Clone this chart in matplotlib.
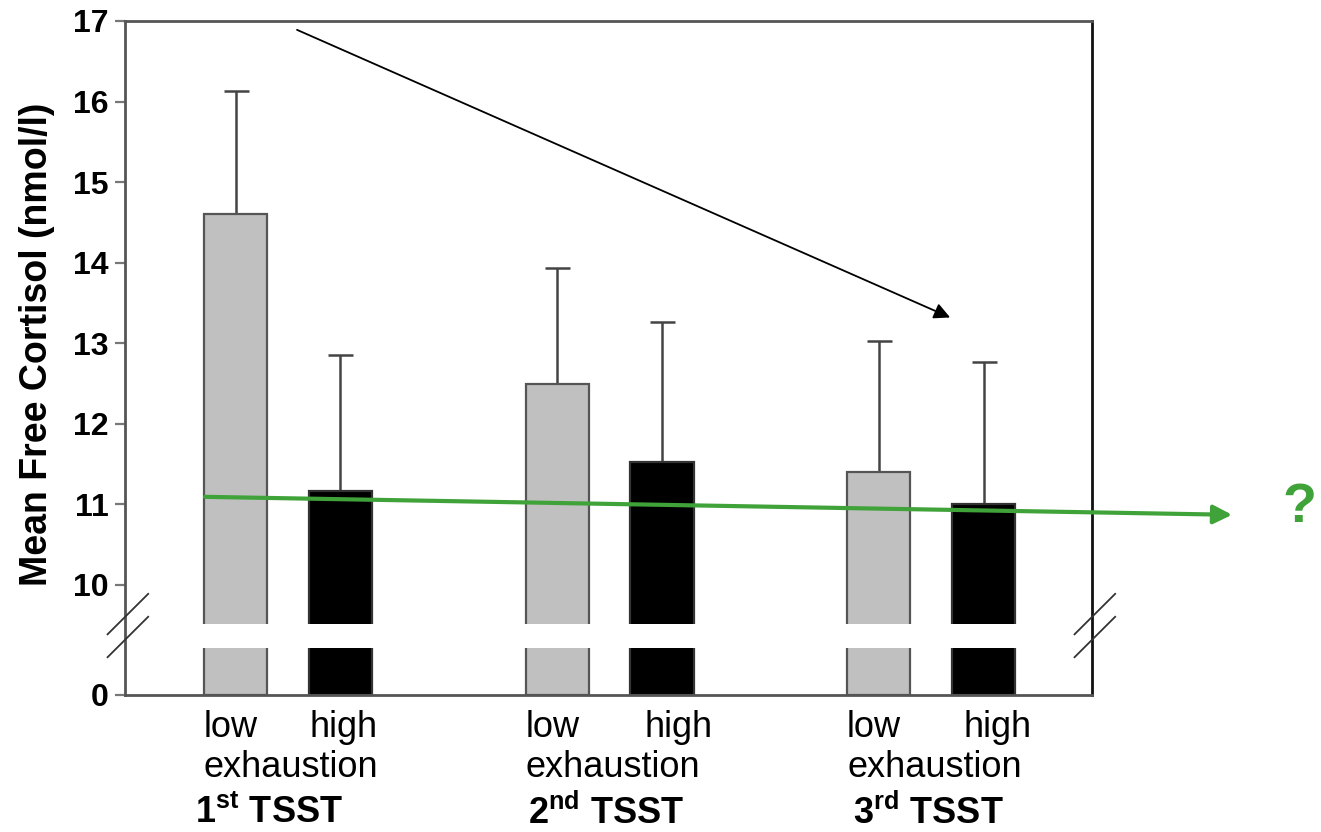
import numpy as np
import matplotlib
matplotlib.use('Agg')
import matplotlib.pyplot as plt
import matplotlib.transforms as mtransforms

plt.rcParams['font.family'] = ['Liberation Sans', 'DejaVu Sans']
plt.rcParams['mathtext.default'] = 'regular'

# data (nmol/l)
sessions = ['1$^{st}$ TSST', '2$^{nd}$ TSST', '3$^{rd}$ TSST']
low_mean = [14.6, 12.5, 11.4]
low_upper = [16.13, 13.93, 13.03]
high_mean = [11.17, 11.53, 11.0]
high_upper = [12.85, 13.27, 12.77]
yticks_upper = [10, 11, 12, 13, 14, 15, 16, 17]

# broken axis: real zero drawn at ZERO_POS, gap between GAP_LO and GAP_HI
ZERO_POS = 8.635
GAP_LO, GAP_HI = 9.22, 9.515

# annotation arrows (data coords)
trend_start, trend_end = (0.028, 16.89), (2.059, 13.32)
green_start, green_end = (-0.258, 11.094), (2.936, 10.871)

GREEN = '#3fa33a'
EDGE = '#555555'

fig = plt.figure(figsize=(13.21, 8.32), dpi=100)
ax = fig.add_axes([0.0946, 0.1647, 0.732, 0.8101])

x = np.arange(len(sessions))
off, w = 0.163, 0.196
lo_x, hi_x = x - off, x + off
ax.bar(lo_x, np.array(low_mean) - ZERO_POS, w, bottom=ZERO_POS,
       color='#c0c0c0', edgecolor=EDGE, linewidth=1.6, zorder=1)
ax.bar(hi_x, np.array(high_mean) - ZERO_POS, w, bottom=ZERO_POS,
       color='black', edgecolor='#333333', linewidth=1.6, zorder=1)

for xs, m, u in [(lo_x, low_mean, low_upper), (hi_x, high_mean, high_upper)]:
    err = np.array(u) - np.array(m)
    ax.errorbar(xs, m, yerr=[np.zeros_like(err), err], fmt='none',
                ecolor='#444444', elinewidth=1.8, capsize=9, capthick=1.8,
                zorder=0.9)

# gap in the bars
ax.axhspan(GAP_LO, GAP_HI, color='white', zorder=2, lw=0)

ax.set_xlim(-0.507, 2.50)
ax.set_ylim(ZERO_POS, 17)
ax.set_xticks([])
ax.set_yticks([ZERO_POS] + yticks_upper)
ax.set_yticklabels(['0'] + [str(v) for v in yticks_upper])
ax.tick_params(axis='y', direction='out', length=7, width=1.6, color='#777777',
               labelsize=23, pad=5)
for lab in ax.get_yticklabels():
    lab.set_fontweight('bold')
for side in ['left', 'top', 'bottom']:
    ax.spines[side].set_color('#555555')
    ax.spines[side].set_linewidth(2)
ax.spines['right'].set_color('#111111')
ax.spines['right'].set_linewidth(2)

ax.set_ylabel('Mean Free Cortisol (nmol/l)', fontsize=27, fontweight='bold')
ax.yaxis.set_label_coords(-0.072, 0.52)

# break marks on both vertical axes
for xa in [0.0, 1.0]:
    for ya in [0.12, 0.086]:
        ax.plot([xa - 0.018, xa + 0.024], [ya - 0.03, ya + 0.03],
                transform=ax.transAxes, color='#333333', lw=1.3,
                clip_on=False, zorder=5)

# category labels under the bars
trans = mtransforms.blended_transform_factory(ax.transData, ax.transAxes)
high_shift = [0.01, 0.05, 0.045]
name_shift = [-0.06, -0.01, -0.01]
for i, name in enumerate(sessions):
    ax.text(lo_x[i] - 0.015, -0.048, 'low', transform=trans, ha='center',
            va='center', fontsize=26)
    ax.text(hi_x[i] + high_shift[i], -0.048, 'high', transform=trans,
            ha='center', va='center', fontsize=26)
    ax.text(x[i] + 0.01, -0.107, 'exhaustion', transform=trans, ha='center',
            va='center', fontsize=26)
    ax.text(x[i] + name_shift[i], -0.176, name, transform=trans, ha='center',
            va='center', fontsize=26, fontweight='bold')

# trend arrows
ax.annotate('', xy=trend_end, xytext=trend_start,
            arrowprops=dict(arrowstyle='-|>', color='black', lw=1.3,
                            mutation_scale=24, shrinkA=0, shrinkB=0),
            annotation_clip=False, zorder=6)
ax.annotate('', xy=green_end, xytext=green_start,
            arrowprops=dict(arrowstyle='-|>', color=GREEN, lw=3,
                            mutation_scale=28, shrinkA=0, shrinkB=0),
            annotation_clip=False, zorder=6)
fig.text(0.984, 0.39, '?', color=GREEN, fontsize=40, fontweight='bold',
         ha='center', va='center')

fig.savefig('out.png', dpi=100)
